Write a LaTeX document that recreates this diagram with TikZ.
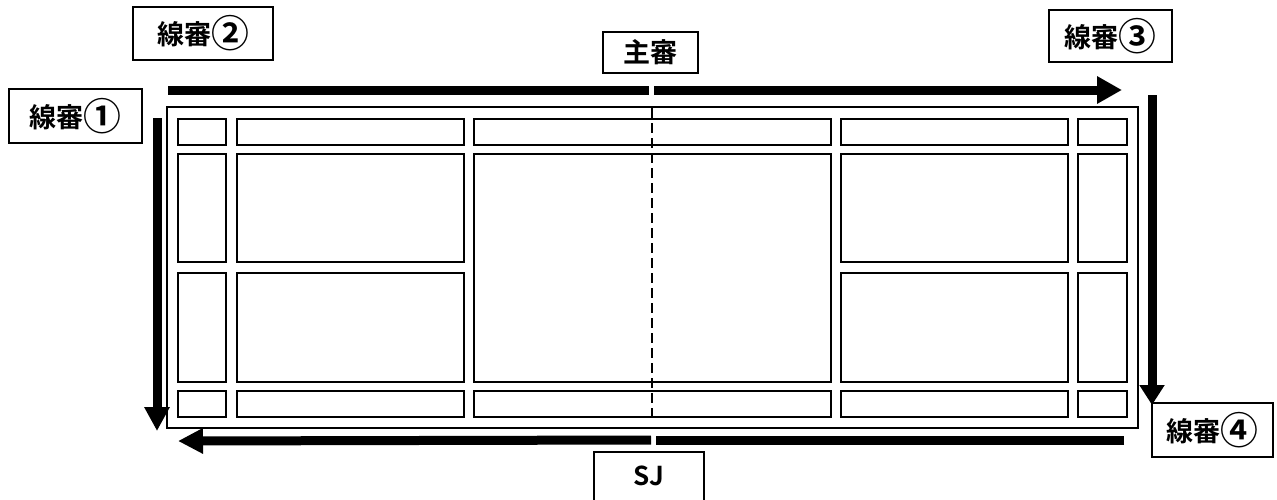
\documentclass[tikz,border=0pt]{standalone}
\usepackage{fontspec}
\usepackage{graphicx}
\newfontfamily\jp{Noto Sans CJK JP}[BoldFont={Noto Sans CJK JP Bold}]
\newcommand{\circnum}[1]{\raisebox{-0.12em}{\scalebox{1.4}{#1}}}
\usetikzlibrary{arrows.meta}
\tikzset{
  court/.style={line width=2.9pt},
  cell/.style={line width=2.9pt},
  label/.style={draw, line width=2.8pt, inner sep=0pt, font=\jp\bfseries\fontsize{27}{27}\selectfont},
  bar/.style={line width=9pt, line cap=butt},
  bighead/.style={-{Triangle[length=25pt,width=26pt]}},
  centerline/.style={line width=2.8pt, dash pattern=on 10pt off 5pt},
}
\begin{document}
\begin{tikzpicture}[x=1pt,y=-1pt]
\useasboundingbox (0,0) rectangle (1277,499);
% court
\draw[court] (167,107) rectangle (1138,428);
% cells
\foreach \xa/\xb in {178/226,237/464,841/1068,1078/1127}{
  \foreach \ya/\yb in {119/145,154/262,273/382,391/417}{
    \draw[cell] (\xa,\ya) rectangle (\xb,\yb);
  }
}
\foreach \ya/\yb in {119/145,154/382,391/417}{
  \draw[cell] (474,\ya) rectangle (831,\yb);
}
% centre line
\coordinate (c1) at (652,108);
\coordinate (c2) at (652,417);
\draw[centerline] (c1) -- (c2);
% labels
\node[label, minimum width=140pt, minimum height=53pt] (L2) at (203,33.5) {線審\circnum{②}};
\node[label, minimum width=133pt, minimum height=54pt] (L1) at (75.5,116) {線審\circnum{①}};
\node[label, minimum width=95pt, minimum height=41pt] (U) at (650.5,52.5) {主審};
\node[label, minimum width=123pt, minimum height=52pt] (L3) at (1110.5,36) {線審\circnum{③}};
\node[label, minimum width=121pt, minimum height=54pt] (L4) at (1212.5,430) {線審\circnum{④}};
\node[font=\jp\bfseries\fontsize{26}{26}\selectfont] (SJ) at (649,476) {SJ};
\draw[line width=2.8pt] (594,505) -- (594,452) -- (704,452) -- (704,505);
% arrows
\coordinate (t1) at (168,90);
\coordinate (t2) at (649,90);
\coordinate (t3) at (654,90);
\coordinate (t4) at (1122,90);
\draw[bar] (t1) -- (t2);
\draw[bar, bighead] (t3) -- (t4);
\coordinate (l1) at (157,118);
\coordinate (l2) at (157,431);
\draw[bar, -{Triangle[length=24pt,width=24pt]}] (l1) -- (l2);
\coordinate (r1) at (1152,95);
\coordinate (r2) at (1152,405);
\draw[bar, -{Triangle[length=20pt,width=24pt]}] (r1) -- (r2);
\coordinate (b1) at (1124,440);
\coordinate (b2) at (656,440);
\coordinate (b3) at (651,440);
\coordinate (b4) at (178,441);
\draw[bar] (b1) -- (b2);
\draw[bar, -{Triangle[length=25pt,width=24pt]}] (b3) -- (b4);
\end{tikzpicture}
\end{document}
